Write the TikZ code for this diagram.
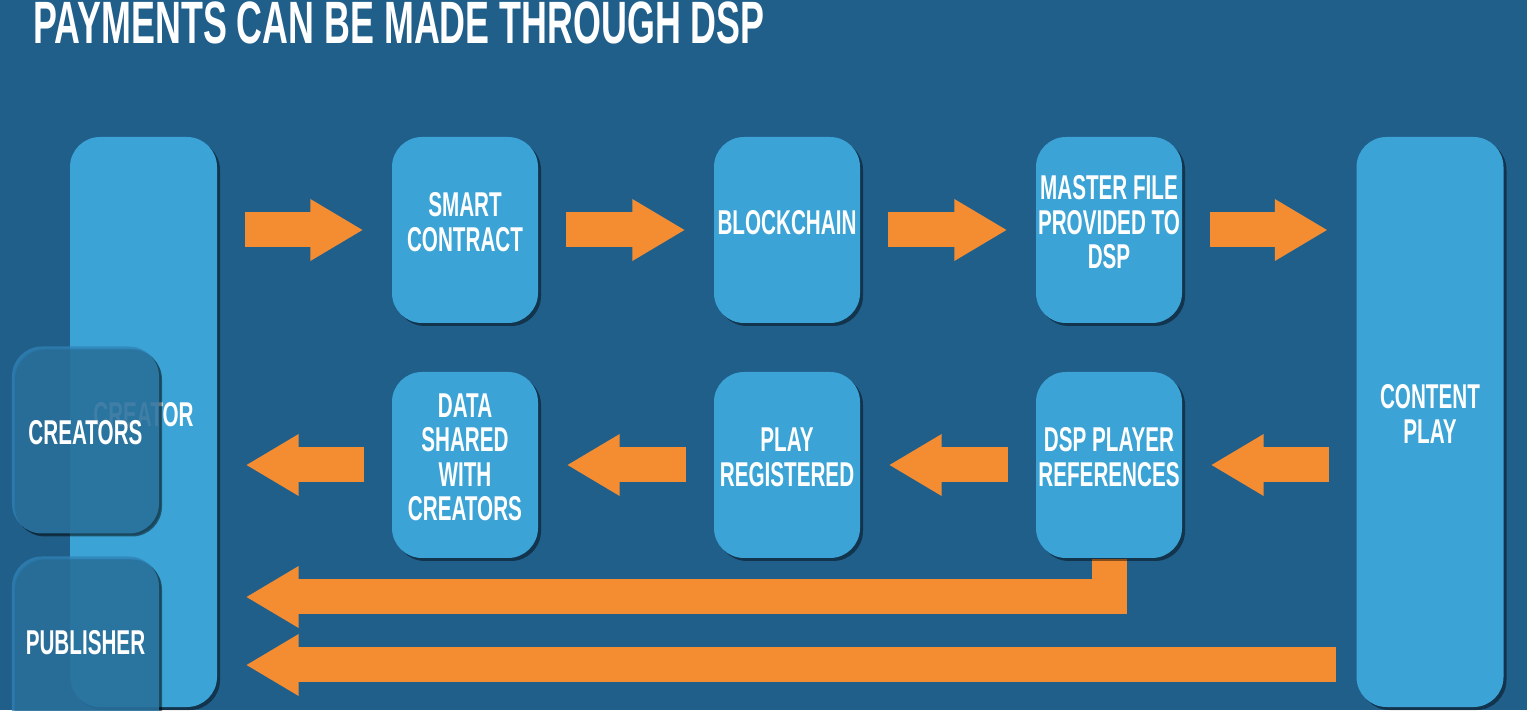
\documentclass[tikz,border=0pt]{standalone}
\usepackage{fontspec}
\setmainfont{Liberation Sans}[FakeStretch=0.6,BoldFeatures={FakeStretch=0.6}]
\usetikzlibrary{arrows.meta,shadows}
\definecolor{bgblue}{RGB}{33,95,139}
\definecolor{boxblue}{RGB}{59,163,213}
\definecolor{glassblue}{RGB}{48,132,184}
\definecolor{payorange}{RGB}{244,141,50}
\pgfdeclarelayer{bg}
\pgfdeclarelayer{flow}
\pgfsetlayers{bg,flow,main}
\tikzset{
  box/.style={fill=boxblue,rounded corners=0.3cm,minimum width=1.46cm,
    minimum height=1.86cm,inner sep=0pt,align=center,text=white,
    text depth=0.16cm,font=\bfseries\fontsize{9.8}{9.8}\selectfont,
    drop shadow={shadow xshift=0.03cm,shadow yshift=-0.03cm,opacity=0.45,fill=black}},
  tall/.style={box,minimum width=1.47cm,minimum height=5.70cm},
  glass/.style={box,fill=glassblue,fill opacity=0.75,text opacity=1,
    minimum width=1.47cm,minimum height=1.87cm,
    drop shadow={shadow xshift=0.02cm,shadow yshift=-0.02cm,opacity=0.2,fill=black}},
  fat/.style={draw=payorange,line width=0.35cm,
    -{Triangle[length=0.53cm,width=0.58cm]},shorten <=0.27cm,shorten >=0.28cm}
}
\begin{document}
\begin{tikzpicture}
\useasboundingbox (0,0) rectangle (15.27,7.10);
\clip (0,0) rectangle (15.27,7.10);
\begin{pgfonlayer}{bg}
\fill[bgblue] (0,0) rectangle (15.27,7.10);
\end{pgfonlayer}
\node[anchor=base west,text=white,font=\bfseries\fontsize{17}{18}\selectfont,inner sep=0pt]
  (title) at (0.33,6.66) {PAYMENTS CAN BE MADE THROUGH DSP};
% outer parties
\node[tall] (creator) at (1.435,2.88) {CREATOR};
\node[tall] (content) at (14.30,2.88) {CONTENT\\PLAY};
% upper row
\node[box] (smart) at (4.65,4.80) {SMART\\CONTRACT};
\node[box] (chain) at (7.87,4.80) {BLOCKCHAIN};
\node[box] (master) at (11.09,4.80) {MASTER FILE\\PROVIDED TO\\DSP};
% lower row
\node[box] (data) at (4.65,2.45) {DATA\\SHARED\\WITH\\CREATORS};
\node[box] (play) at (7.87,2.45) {PLAY\\REGISTERED};
\node[box] (dsp) at (11.09,2.45) {DSP PLAYER\\REFERENCES};
% creators and publisher
\node[glass] (creators) at (0.855,2.70) {CREATORS};
\node[glass] (publisher) at (0.855,0.60) {PUBLISHER};
\path (creator.east) ++(0,-1.75) coordinate (pay1);
\path (creator.east) ++(0,-2.43) coordinate (pay2);
\path (content.west) ++(0,-2.43) coordinate (pay2src);
\begin{pgfonlayer}{flow}
\draw[fat] (smart.west -| creator.east) -- (smart.west);
\draw[fat] (smart) -- (chain);
\draw[fat] (chain) -- (master);
\draw[fat] (master.east) -- (master.east -| content.west);
\draw[fat] (dsp.east -| content.west) -- (dsp.east);
\draw[fat] (dsp) -- (play);
\draw[fat] (play) -- (data);
\draw[fat] (data.west) -- (data.west -| creator.east);
\draw[fat,shorten <=0pt] (dsp.south) |- (pay1);
\draw[fat,shorten <=0.2cm] (pay2src) -- (pay2);
\end{pgfonlayer}
\end{tikzpicture}
\end{document}
